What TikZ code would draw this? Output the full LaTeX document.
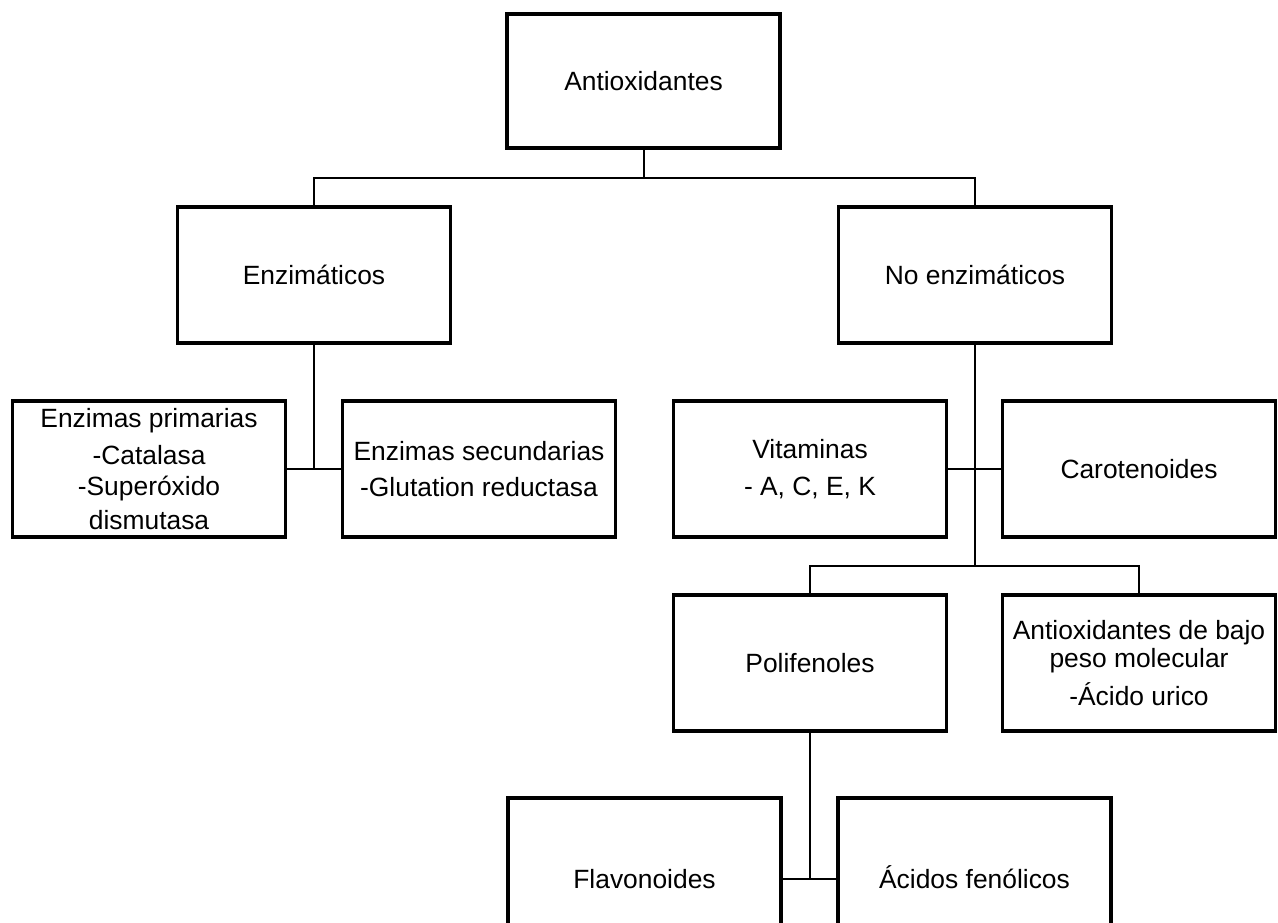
\documentclass[tikz,border=0pt]{standalone}
\usepackage{fontspec}
\setmainfont{Liberation Sans}
\tikzset{
  box/.style={draw, line width=1.65pt, minimum width=136.5pt, minimum height=68pt,
    inner sep=0pt, align=center, font=\fontsize{13.2pt}{15pt}\selectfont},
  tallbox/.style={box, minimum height=81pt},
  topbox/.style={box, minimum height=67pt},
  link/.style={line width=1pt},
}
\begin{document}
\begin{tikzpicture}[x=0.5pt, y=-0.5pt]
\useasboundingbox (0,0) rectangle (1278,922);
\clip (0,0) rectangle (1278,922);
\fill[white] (0,0) rectangle (1278,922);

\node[topbox] (anti) at (643.5,81) {Antioxidantes};
\node[box] (enz) at (314,275) {Enzimáticos};
\node[box] (noenz) at (975,275) {No enzimáticos};
\node[box] (prim) at (149,469) {Enzimas primarias\\[3.5pt]-Catalasa\\[0.5pt]-Superóxido\\[2pt]dismutasa};
\node[box] (sec) at (479,469) {Enzimas secundarias\\[3pt]-Glutation reductasa};
\node[box] (vit) at (810,469) {Vitaminas\\[3.5pt]- A, C, E, K};
\node[box] (car) at (1139,469) {Carotenoides};
\node[box] (poli) at (810,663) {Polifenoles};
\node[box] (bajo) at (1139,663) {Antioxidantes de bajo\\[-1pt]peso molecular\\[4pt]-Ácido urico};
\node[tallbox] (flav) at (644.5,879) {Flavonoides};
\node[tallbox] (acid) at (974.5,879) {\smash{Á}cidos fenólicos};

\coordinate (j1) at (643.5,178);
\coordinate (j2) at (975,566);

\draw[link] (anti.south) -- (j1);
\draw[link] (enz.north) -- (enz.north |- j1) -- (noenz.north |- j1) -- (noenz.north);
\draw[link] (enz.south) -- (enz.south |- prim.east);
\draw[link] (prim.east) -- (sec.west);
\draw[link] (noenz.south) -- (j2);
\draw[link] (vit.east) -- (car.west);
\draw[link] (poli.north) -- (poli.north |- j2) -- (bajo.north |- j2) -- (bajo.north);
\draw[link] (poli.south) -- (poli.south |- flav.east);
\draw[link] (flav.east) -- (acid.west);
\end{tikzpicture}
\end{document}
